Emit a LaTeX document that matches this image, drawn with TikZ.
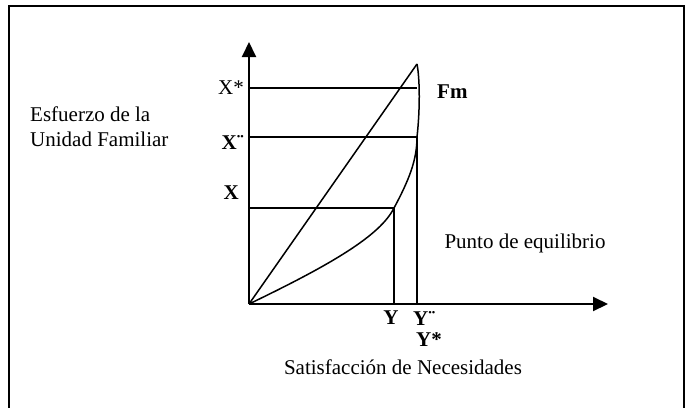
\documentclass[tikz,border=0pt]{standalone}
\usepackage{fontspec}
\setmainfont{Liberation Serif}
\usepackage{tikz}
\usetikzlibrary{arrows.meta, positioning, calc}

\begin{document}
\begin{tikzpicture}[x=1pt, y=-1pt,
    axisline/.style={line width=2pt, -{Triangle[length=15pt, width=14pt]}},
    guide/.style={line width=1.5pt},
    lbl/.style={inner sep=0pt, font=\fontsize{21}{25}\selectfont},
    blbl/.style={lbl, font=\fontsize{21}{25}\selectfont\bfseries}]
    \useasboundingbox (0,0) rectangle (692,407);
    % frame
    \draw[line width=2.2pt] (9,412) -- (9,6) -- (684,6) -- (684,412);

    % key points
    \coordinate (O) at (249,304);
    \coordinate (ytip) at (249,42);
    \coordinate (xtip) at (608,304);
    \coordinate (top) at (417,64);
    \coordinate (eqX) at (394,208);
    \coordinate (eqXdd) at (417,137);
    \coordinate (xs) at (249,88);
    \coordinate (xsr) at (417,88);
    \coordinate (xdd) at (249,137);
    \coordinate (xx) at (249,208);
    \coordinate (yy) at (394,304);
    \coordinate (ydd) at (417,304);

    % axes
    \draw[axisline] (O) -- (ytip);
    \draw[axisline] (O) -- (xtip);

    % guide lines
    \draw[guide] (xs) -- (xsr);
    \draw[guide] (xdd) -- (eqXdd);
    \draw[guide] (xx) -- (eqX);
    \draw[guide] (eqX) -- (yy);
    \draw[guide] (eqXdd) -- (ydd);

    % diagonal and curve
    \draw[guide] (O) -- (top);
    \draw[guide] (O) .. controls (330,265) and (380,236) .. (eqX)
        .. controls (409,180) and (417,160) .. (eqXdd)
        .. controls (420,110) and (420,80) .. (top);

    % labels
    \node[lbl, anchor=east] (lXs) at (244,88) {X*};
    \node[blbl, anchor=east] (lXdd) at (244,142) {X¨};
    \node[blbl, anchor=east] (lX) at (239,193) {X};
    \node[blbl, anchor=west] (lFm) at (437,92) {Fm};
    \node[blbl] (lY) at (391,318) {Y};
    \node[blbl, anchor=west] (lYdd) at (413,318) {Y¨};
    \node[blbl, anchor=west] (lYs) at (416,340) {Y*};
    \node[lbl] (lsat) at (403,367) {Satisfacción de Necesidades};
    \node[lbl] (lpunto) at (525,243) {Punto de equilibrio};
    \node[lbl, anchor=north west, align=left] (lesf) at (30,107)
        {Esfuerzo de la\\Unidad Familiar};
\end{tikzpicture}
\end{document}
